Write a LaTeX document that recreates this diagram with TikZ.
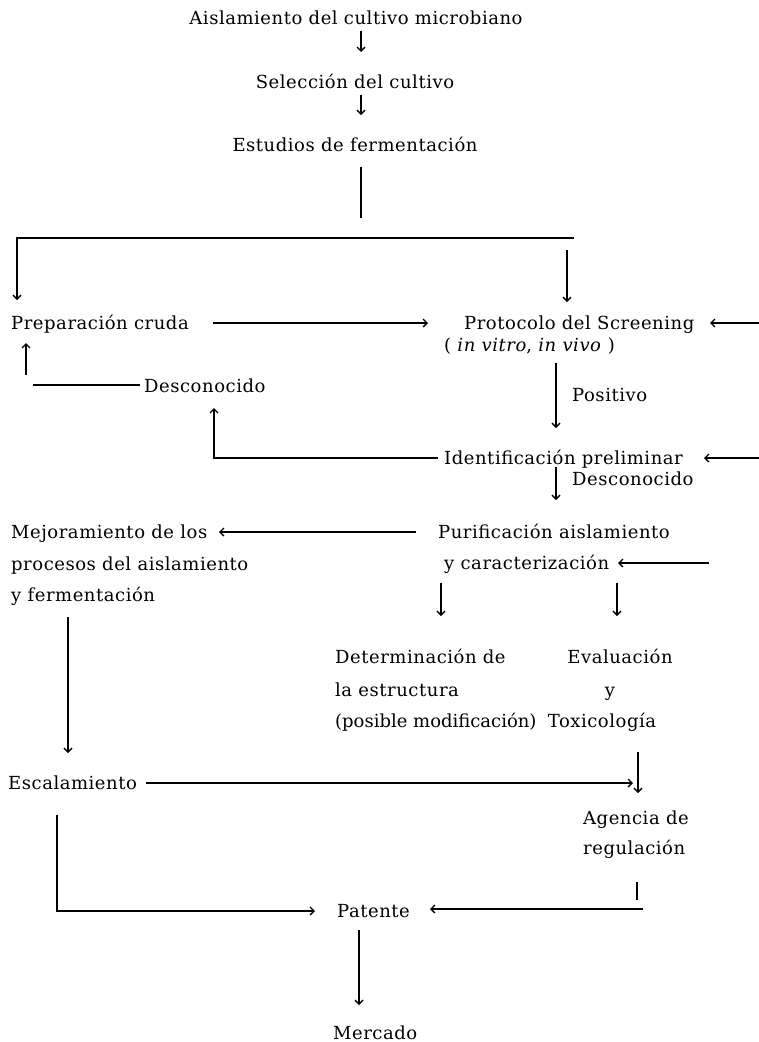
\documentclass[tikz,border=0pt]{standalone}
\usepackage{fontspec}
\setmainfont[LetterSpace=3]{DejaVu Serif}
\usetikzlibrary{arrows.meta}
\begin{document}
\begin{tikzpicture}[x=1pt,y=-1pt,
  txt/.style={font=\fontsize{18}{22}\selectfont, inner sep=0pt, anchor=base west},
  ctxt/.style={font=\fontsize{18}{22}\selectfont, inner sep=0pt, anchor=base},
  ln/.style={line width=1.3pt},
  arr/.style={ln, -{Straight Barb[length=4pt,width=8pt]}}]
\fill[white] (0,0) rectangle (759,1042);
\useasboundingbox (0,0) rectangle (759,1042);
% text nodes
\node[ctxt] (n1) at (356,24) {Aislamiento del cultivo microbiano};
\node[ctxt] (n2) at (355,88) {Selección del cultivo};
\node[ctxt] (n3) at (355,151) {Estudios de fermentación};
\node[txt] (prep) at (11,329) {Preparación cruda};
\node[txt] (prot) at (464,329) {Protocolo del Screening};
\node[txt] (vitro) at (444,351) {(\ \textit{in vitro}, \textit{in vivo}\ )};
\node[txt] (desc1) at (144,392) {Desconocido};
\node[txt] (posi) at (572,401) {Positivo};
\node[txt] (ident) at (444,464) {Identificación preliminar};
\node[txt] (desc2) at (572,485) {Desconocido};
\node[txt] (mej1) at (11,538) {Mejoramiento de los};
\node[txt] (mej2) at (11,570) {procesos del aislamiento};
\node[txt] (mej3) at (11,601) {y fermentación};
\node[txt] (pur1) at (438,538) {Purificación aislamiento};
\node[txt] (pur2) at (444,569) {y caracterización};
\node[txt] (det1) at (335,663) {Determinación de};
\node[txt] (det2) at (335,696) {la estructura};
\node[txt] (det3) at (335,727) {\addfontfeatures{LetterSpace=0}(posible modificación)};
\node[ctxt] (ev1) at (620,663) {Evaluación};
\node[ctxt] (ev2) at (610,696) {y};
\node[ctxt] (ev3) at (602,727) {Toxicología};
\node[txt] (esc) at (8,789) {Escalamiento};
\node[txt] (ag1) at (583,824) {Agencia de};
\node[txt] (ag2) at (583,854) {regulación};
\node[txt] (pat) at (337,917) {Patente};
\node[txt] (mer) at (333,1039) {Mercado};
% connector end points
\coordinate (c1a) at (361,31);  \coordinate (c1b) at (361,52);
\coordinate (c2a) at (361,95);  \coordinate (c2b) at (361,115);
\coordinate (c3a) at (361,167); \coordinate (c3b) at (361,218);
\coordinate (barR) at (574,238); \coordinate (barL) at (17,238); \coordinate (prepTop) at (17,300);
\coordinate (c5a) at (567,250); \coordinate (c5b) at (567,302);
\coordinate (c7a) at (213,323); \coordinate (c7b) at (428,323);
\coordinate (c9a) at (759,323); \coordinate (c9b) at (710,323);
\coordinate (c11a) at (26,375); \coordinate (c11b) at (26,343);
\coordinate (c12a) at (33,385); \coordinate (c12b) at (140,385);
\coordinate (c14a) at (438,458); \coordinate (c14m) at (214,458); \coordinate (c14b) at (214,408);
\coordinate (c15a) at (556,363); \coordinate (c15b) at (556,428);
\coordinate (c18a) at (759,458); \coordinate (c18b) at (704,458);
\coordinate (c19a) at (556,467); \coordinate (c19b) at (556,500);
\coordinate (c22a) at (416,532); \coordinate (c22b) at (219,532);
\coordinate (c26a) at (709,563); \coordinate (c26b) at (618,563);
\coordinate (c28a) at (441,583); \coordinate (c28b) at (441,616);
\coordinate (c29a) at (617,583); \coordinate (c29b) at (617,616);
\coordinate (c30a) at (68,617); \coordinate (c30b) at (68,753);
\coordinate (c32a) at (638,752); \coordinate (c32b) at (638,793);
\coordinate (c34a) at (146,783); \coordinate (c34b) at (633,783);
\coordinate (c36a) at (637,882); \coordinate (c36b) at (637,900);
\coordinate (c37a) at (643,909); \coordinate (c37b) at (430,909);
\coordinate (c39a) at (57,815); \coordinate (c39m) at (57,911); \coordinate (c39b) at (315,911);
\coordinate (c40a) at (359,930); \coordinate (c40b) at (359,1005);
% connectors
\draw[arr] (c1a) -- (c1b);
\draw[arr] (c2a) -- (c2b);
\draw[ln] (c3a) -- (c3b);
\draw[arr] (barR) -- (barL) -- (prepTop);
\draw[arr] (c5a) -- (c5b);
\draw[arr] (c7a) -- (c7b);
\draw[arr] (c9a) -- (c9b);
\draw[arr] (c11a) -- (c11b);
\draw[ln] (c12a) -- (c12b);
\draw[arr] (c14a) -- (c14m) -- (c14b);
\draw[arr] (c15a) -- (c15b);
\draw[arr] (c18a) -- (c18b);
\draw[arr] (c19a) -- (c19b);
\draw[arr] (c22a) -- (c22b);
\draw[arr] (c26a) -- (c26b);
\draw[arr] (c28a) -- (c28b);
\draw[arr] (c29a) -- (c29b);
\draw[arr] (c30a) -- (c30b);
\draw[arr] (c32a) -- (c32b);
\draw[arr] (c34a) -- (c34b);
\draw[ln] (c36a) -- (c36b);
\draw[arr] (c37a) -- (c37b);
\draw[arr] (c39a) -- (c39m) -- (c39b);
\draw[arr] (c40a) -- (c40b);
\end{tikzpicture}
\end{document}
